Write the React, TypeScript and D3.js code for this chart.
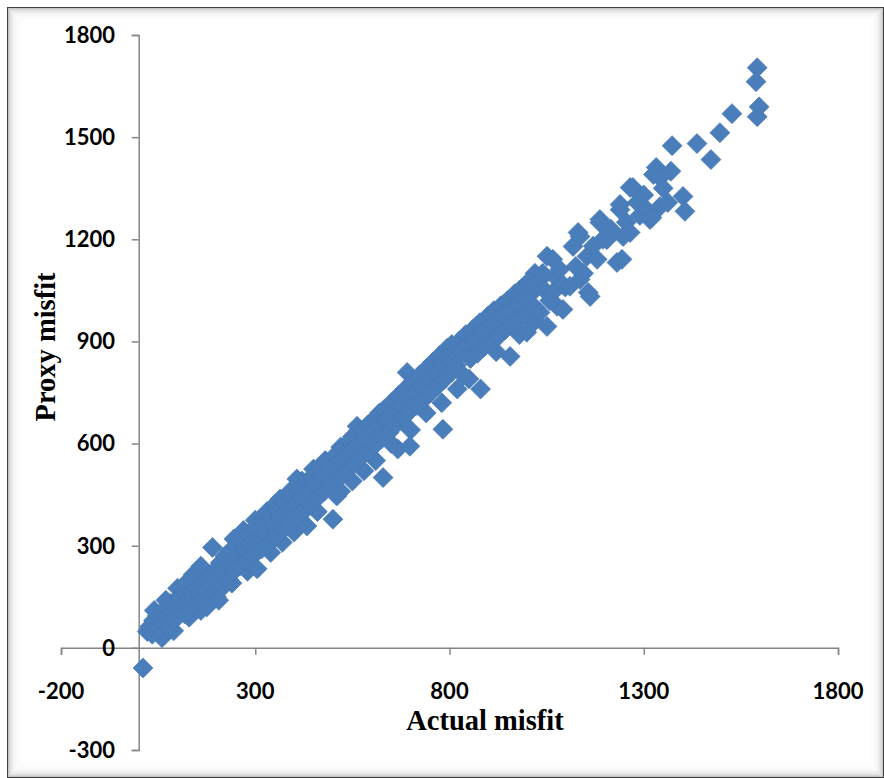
import React, { useEffect, useRef } from 'react';
import * as d3 from 'd3';

// [actual misfit, proxy misfit]
const lowBand: [number, number][] = [
  [11, -59], [22, 48], [28, 62], [35, 40], [38, 80], [44, 70], [48, 95], [52, 55], [58, 88], [62, 105],
  [66, 72], [70, 118], [74, 92], [78, 60], [82, 130], [86, 105], [90, 82], [95, 140], [100, 115], [104, 95],
  [108, 150], [112, 128], [118, 100], [122, 160], [126, 140], [130, 200], [134, 118], [138, 165], [142, 150],
  [148, 130], [152, 178], [158, 160], [162, 135], [166, 190], [170, 175], [175, 120], [180, 210], [185, 185],
  [190, 295], [194, 160], [198, 230], [202, 205], [206, 140], [210, 250], [214, 225], [218, 180], [222, 270],
  [228, 245], [232, 200], [236, 285], [240, 260], [245, 225], [250, 300], [255, 275], [260, 240], [265, 320],
  [270, 290], [276, 255], [282, 335], [288, 305], [294, 270], [300, 350],
];

const midBand: [number, number][] = [
  [305, 232], [310, 320], [316, 290], [322, 365], [328, 340], [334, 305], [340, 385], [346, 360], [352, 325],
  [358, 405], [364, 437], [364, 380], [370, 345], [376, 425], [382, 400], [388, 365], [394, 445], [400, 420],
  [406, 385], [407, 496], [412, 465], [418, 440], [424, 400], [433, 358], [430, 485], [436, 460], [442, 420],
  [448, 505], [454, 480], [460, 440], [466, 525], [472, 500], [478, 460], [484, 545], [490, 520], [496, 480],
  [500, 378], [505, 565], [510, 446], [512, 540], [518, 500], [524, 585], [530, 560], [536, 520], [542, 605],
  [548, 580], [554, 540], [562, 651], [566, 600], [572, 560], [578, 640], [584, 615], [590, 575], [596, 660],
  [602, 635], [608, 595], [614, 680], [620, 655], [626, 615], [629, 500], [632, 700], [638, 672], [644, 632],
  [650, 720], [656, 695], [662, 655], [667, 584], [668, 740], [674, 712], [680, 675], [686, 760], [691, 809],
  [692, 730], [698, 592], [698, 695], [704, 780], [710, 750], [716, 712], [722, 800], [728, 770], [734, 730],
  [740, 820], [746, 790], [752, 750], [758, 840], [764, 810], [770, 770], [776, 860], [783, 642], [782, 830],
  [788, 790], [794, 880], [800, 850], [806, 891], [806, 810], [812, 870], [818, 830], [824, 900], [830, 870],
  [836, 800], [842, 920], [848, 890], [854, 850],
];

const highBand: [number, number][] = [
  [860, 935], [866, 905], [872, 865], [878, 955], [880, 760], [884, 925], [890, 885], [896, 970], [902, 940],
  [908, 900], [914, 990], [920, 960], [922, 988], [926, 915], [932, 1005], [938, 975], [944, 935], [950, 1020],
  [956, 856], [956, 990], [962, 950], [968, 1040], [974, 1010], [980, 965], [986, 1055], [992, 1025], [998, 980],
  [999, 927], [1003, 1075], [1010, 1040], [1015, 1062], [1020, 1000], [1033, 1082], [1033, 985], [1040, 1100],
  [1045, 1050], [1051, 1150], [1051, 944], [1058, 1020], [1066, 1141], [1066, 1044], [1072, 1090], [1077, 1003],
  [1084, 1111], [1092, 994], [1098, 1060], [1110, 1062], [1118, 1179], [1125, 1120], [1131, 1220], [1136, 1082],
  [1136, 1208], [1145, 1100], [1154, 1150], [1157, 1044], [1162, 1032], [1170, 1180], [1180, 1141], [1187, 1258],
  [1187, 1249], [1195, 1200], [1205, 1199], [1215, 1230], [1231, 1132], [1239, 1287], [1239, 1302], [1244, 1141],
  [1247, 1208], [1255, 1250], [1265, 1220], [1265, 1352], [1272, 1352], [1283, 1308], [1290, 1270], [1300, 1330],
  [1308, 1287], [1316, 1258], [1321, 1264], [1325, 1390], [1332, 1411], [1342, 1381], [1342, 1296], [1350, 1350],
  [1362, 1308], [1370, 1400], [1401, 1326], [1406, 1282],
];

const upperEdge: [number, number][] = [
  [40, 110], [70, 140], [100, 175], [140, 215], [160, 240], [245, 320], [270, 345], [300, 375], [330, 400],
  [350, 420], [390, 460], [420, 490], [450, 525], [480, 550], [520, 590], [550, 620], [590, 655], [620, 690],
  [680, 750], [720, 790], [760, 830], [790, 865], [840, 910], [870, 945], [900, 975], [940, 1010], [980, 1050],
  [1020, 1100],
];

const lowerEdge: [number, number][] = [
  [60, 30], [90, 50], [130, 90], [160, 110], [200, 150], [240, 190], [280, 225], [340, 280], [370, 310],
  [400, 340], [460, 400], [520, 460], [550, 490], [580, 520], [610, 550], [650, 600], [700, 640], [740, 690],
  [780, 720], [820, 760], [850, 790], [920, 870], [980, 920], [1020, 960],
];

const topPoints: [number, number][] = [
  [1373, 1475], [1437, 1481], [1473, 1434], [1496, 1513], [1527, 1569], [1597, 1589], [1592, 1560],
  [1592, 1704], [1589, 1663],
];

const xTicks = [-200, 300, 800, 1300, 1800];
const yTicks = [-300, 0, 300, 600, 900, 1200, 1500, 1800];

const W = 884;
const H = 778;

export default function App() {
  const ref = useRef<SVGSVGElement>(null);

  useEffect(() => {
    const svg = d3.select(ref.current);
    svg.selectAll('*').remove();

    const x = d3.scaleLinear().domain([-200, 1800]).range([61, 838]);
    const y = d3.scaleLinear().domain([-300, 1800]).range([750, 35]);

    // frame with inner shadow
    const frame = svg.append('g');
    for (let i = 0; i < 14; i++) {
      frame.append('rect')
        .attr('x', 7 + i + 0.5)
        .attr('y', 7 + i + 0.5)
        .attr('width', W - 7 - 2 * i - 1)
        .attr('height', H - 7 - 2 * i - 1)
        .attr('fill', 'none')
        .attr('stroke', '#000')
        .attr('stroke-opacity', i === 0 ? 0.75 : 0.3 * Math.pow(0.74, i));
    }

    const axisColor = '#868686';

    // x axis at y = 0
    const xAxis = d3.axisBottom(x).tickValues(xTicks).tickSize(7).tickFormat(d3.format('d'));
    const gx = svg.append('g').attr('transform', `translate(0,${y(0)})`).call(xAxis);
    gx.select('.domain').attr('stroke', axisColor).attr('stroke-width', 1.5);
    gx.selectAll('.tick line').attr('stroke', axisColor).attr('stroke-width', 1.5);
    gx.selectAll('.tick text').remove();

    // y axis at x = 0
    const yAxis = d3.axisLeft(y).tickValues(yTicks).tickSize(7).tickFormat(d3.format('d'));
    const gy = svg.append('g').attr('transform', `translate(${x(0)},0)`).call(yAxis);
    gy.select('.domain').attr('stroke', axisColor).attr('stroke-width', 1.5);
    gy.selectAll('.tick line').attr('stroke', axisColor).attr('stroke-width', 1.5);
    gy.selectAll('.tick text').remove();

    const labelFont = 'Lato, "Open Sans", sans-serif';

    svg.append('g').selectAll('text').data(xTicks).enter().append('text')
      .attr('x', d => x(d))
      .attr('y', 699)
      .attr('text-anchor', 'middle')
      .attr('font-family', labelFont)
      .attr('font-weight', 700)
      .attr('font-size', 22)
      .attr('fill', '#000')
      .text(d => d);

    svg.append('g').selectAll('text').data(yTicks).enter().append('text')
      .attr('x', 115)
      .attr('y', d => y(d))
      .attr('dy', '0.36em')
      .attr('text-anchor', 'end')
      .attr('font-family', labelFont)
      .attr('font-weight', 700)
      .attr('font-size', 22)
      .attr('fill', '#000')
      .text(d => d);

    // markers
    const points = [...lowerEdge, ...upperEdge, ...lowBand, ...midBand, ...highBand, ...topPoints];
    const diamond = d3.symbol().type(d3.symbolSquare).size(200);
    svg.append('g').selectAll('path').data(points).enter().append('path')
      .attr('d', diamond()!)
      .attr('transform', d => `translate(${x(d[0])},${y(d[1])}) rotate(45)`)
      .attr('fill', '#4a7ebb')
      .attr('stroke', '#4677b3')
      .attr('stroke-width', 0.6);

    // titles
    svg.append('text')
      .attr('x', 485)
      .attr('y', 730)
      .attr('text-anchor', 'middle')
      .attr('font-family', '"Liberation Serif", "Times New Roman", serif')
      .attr('font-weight', 700)
      .attr('font-size', 28.5)
      .text('Actual misfit');

    svg.append('text')
      .attr('transform', 'translate(55,347) rotate(-90)')
      .attr('text-anchor', 'middle')
      .attr('font-family', '"Liberation Serif", "Times New Roman", serif')
      .attr('font-weight', 700)
      .attr('font-size', 28.5)
      .text('Proxy misfit');
  }, []);

  return (
    <svg
      ref={ref}
      width={W}
      height={H}
      style={{ position: 'absolute', left: 0, top: 0, background: '#fff' }}
    />
  );
}
